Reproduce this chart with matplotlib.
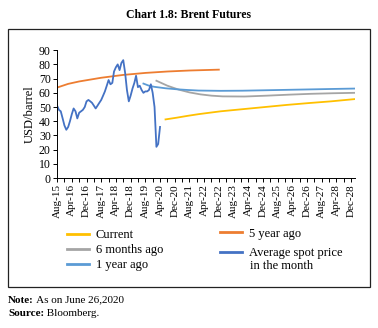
import pandas as pd
import matplotlib
matplotlib.use("Agg")
import matplotlib.pyplot as plt
import matplotlib.dates as mdates
from matplotlib.patches import Rectangle

plt.rcParams["font.family"] = ["Liberation Serif", "DejaVu Serif"]

# monthly average Brent spot, Aug-15 onwards
spot_start = "2015-08-01"
spot_price = [51, 48, 47, 42, 37, 34, 36, 40, 45, 49, 47, 42, 46, 47, 48, 50,
              54, 55, 54, 53, 51, 49, 51, 53, 55, 58, 61, 65, 69, 66, 67, 75,
              78, 80, 76, 81, 83, 74, 62, 54, 58, 63, 67, 72, 64, 65, 62, 60,
              61, 61, 62, 66, 60, 50, 22, 24, 36]

# futures curves (contract month, USD/barrel)
cur_months = ["2020-07", "2021-01", "2021-07", "2022-01", "2022-07", "2023-01",
              "2024-01", "2025-01", "2026-01", "2027-01", "2028-01", "2029-02"]
cur_price = [41.3, 42.5, 43.8, 45.0, 46.0, 47.0, 48.5, 50.0, 51.5, 52.8, 54.0, 55.6]

m6_months = ["2020-02", "2020-08", "2021-02", "2021-08", "2022-02", "2022-08",
             "2023-02", "2024-02", "2025-02", "2026-02", "2027-02", "2028-02",
             "2029-02"]
m6_price = [68.5, 65.0, 62.3, 60.3, 58.9, 58.0, 57.5, 57.4, 58.0, 58.7, 59.3,
            59.7, 60.0]

y1_months = ["2019-07", "2019-10", "2020-01", "2020-07", "2021-01", "2021-07",
             "2022-01", "2023-01", "2024-01", "2025-01", "2026-01", "2027-01",
             "2028-01", "2029-02"]
y1_price = [66.5, 65.0, 64.2, 63.2, 62.5, 62.0, 61.6, 61.4, 61.5, 61.8, 62.1,
            62.4, 62.7, 63.0]

y5_months = ["2015-08", "2016-02", "2016-08", "2017-08", "2018-08", "2019-08",
             "2020-08", "2021-08", "2022-12"]
y5_price = [63.7, 66.3, 68.0, 70.6, 72.6, 74.0, 75.0, 75.7, 76.3]

spot_dates = pd.date_range(spot_start, periods=len(spot_price), freq="MS")

fig = plt.figure(figsize=(3.78, 3.28), dpi=100)
ax = fig.add_axes([0.151, 0.457, 0.788, 0.390])

lw = 1.3
l_cur, = ax.plot(pd.to_datetime(cur_months), cur_price, color="#FFC000", lw=lw)
l_m6, = ax.plot(pd.to_datetime(m6_months), m6_price, color="#A5A5A5", lw=lw)
l_y1, = ax.plot(pd.to_datetime(y1_months), y1_price, color="#5B9BD5", lw=lw)
l_y5, = ax.plot(pd.to_datetime(y5_months), y5_price, color="#ED7D31", lw=lw)
l_spot, = ax.plot(spot_dates, spot_price, color="#4472C4", lw=lw)

ax.set_ylim(0, 90)
ax.set_yticks(range(0, 91, 10))
ax.set_xlim(pd.Timestamp("2015-08-01"), pd.Timestamp("2029-02-01"))
ax.set_xticks(pd.date_range("2015-08-01", "2028-12-01", freq="8MS"))
ax.set_xticks(pd.date_range("2015-08-01", "2029-01-01", freq="4MS"), minor=True)
ax.xaxis.set_major_formatter(mdates.DateFormatter("%b-%y"))
ax.tick_params(axis="x", which="both", rotation=90, labelsize=8, length=3,
               width=0.7, pad=1.5)
ax.tick_params(axis="y", labelsize=8.5, length=3, width=0.7, pad=1.5)
for side in ["top", "right"]:
    ax.spines[side].set_visible(False)
for side in ["left", "bottom"]:
    ax.spines[side].set_linewidth(0.7)
ax.set_ylabel("USD/barrel", fontsize=9, labelpad=2)

leg_kw = dict(loc="upper left", frameon=False, fontsize=9, handlelength=1.75,
              handletextpad=0.55, borderpad=0, borderaxespad=0)
leg1 = fig.legend([l_cur, l_m6, l_y1], ["Current", "6 months ago", "1 year ago"],
                  bbox_to_anchor=(0.177, 0.302), labelspacing=0.25, **leg_kw)
leg2 = fig.legend([l_y5, l_spot], ["5 year ago", "Average spot price"],
                  bbox_to_anchor=(0.582, 0.306), labelspacing=0.62, **leg_kw)
for lg in (leg1, leg2):
    for h in lg.legend_handles:
        h.set_linewidth(2)
# second line of the spot-price legend label
fig.text(250 / 378, 1 - 266 / 328, "in the month", fontsize=9, va="center")

fig.text(0.5, 0.953, "Chart 1.8: Brent Futures", ha="center", va="center",
         fontsize=8.5, fontweight="bold")
fig.patches.append(Rectangle((8 / 378, 1 - 287 / 328), 362 / 378, 258 / 328,
                             transform=fig.transFigure, fill=False,
                             edgecolor="#222222", lw=0.9))

# footnotes: bold heading followed by plain text
for ypos, head, rest in [(0.085, "Note:", " As on June 26,2020"),
                         (0.045, "Source:", " Bloomberg.")]:
    t = fig.text(0.021, ypos, head, fontsize=8, fontweight="bold", va="center")
    fig.add_artist(matplotlib.text.Annotation(rest, xy=(1, 0.5), xycoords=t,
                                              fontsize=8, va="center"))

fig.savefig("out.png", dpi=100)
